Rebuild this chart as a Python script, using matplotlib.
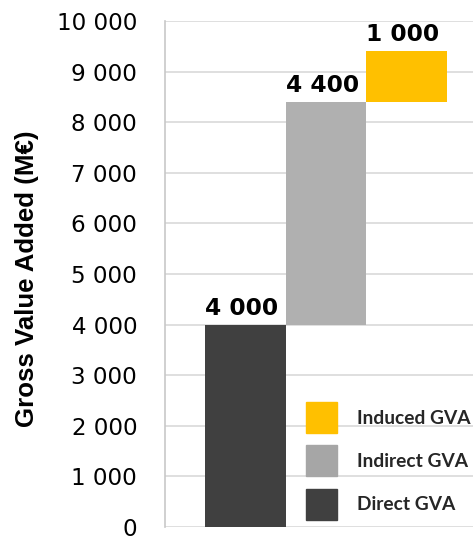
import matplotlib
matplotlib.use("Agg")
import matplotlib.pyplot as plt
from matplotlib.patches import Patch

categories = ["Direct GVA", "Indirect GVA", "Induced GVA"]
values = [4000, 4400, 1000]
value_labels = ["4 000", "4 400", "1 000"]
colors = ["#404040", "#b0b0b0", "#ffc000"]
legend_colors = ["#404040", "#a6a6a6", "#ffc000"]
yticks = [0, 1000, 2000, 3000, 4000, 5000, 6000, 7000, 8000, 9000, 10000]
ytick_labels = ["0", "1 000", "2 000", "3 000", "4 000", "5 000",
                "6 000", "7 000", "8 000", "9 000", "10 000"]

# waterfall bottoms
bottoms = []
run = 0
for v in values:
    bottoms.append(run)
    run += v

fig = plt.figure(figsize=(4.73, 5.38), dpi=100)
ax = fig.add_axes([165 / 473, 11 / 538, 308 / 473, 506 / 538])

xs = list(range(len(values)))
ax.bar(xs, values, bottom=bottoms, width=1.0, color=colors, zorder=3)

for x, b, v, lab in zip(xs, bottoms, values, value_labels):
    ax.text(x - 0.05, b + v + 100, lab, ha="center", va="bottom",
            fontsize=16.8, fontweight="bold", family="DejaVu Sans", zorder=4)

ax.set_xlim(-0.996, 2.82)
ax.set_ylim(0, 10000)
ax.set_yticks(yticks)
ax.set_yticklabels(ytick_labels, fontsize=16.6, family="DejaVu Sans")
ax.set_xticks([])
ax.tick_params(axis="y", length=0, pad=20)
ax.grid(axis="y", color="#d9d9d9", linewidth=1.2, zorder=0)
for s in ["top", "right", "bottom"]:
    ax.spines[s].set_visible(False)
ax.spines["left"].set_color("#c8c8c8")
ax.spines["left"].set_linewidth(1.2)

ax.set_ylabel("Gross Value Added (M€)", fontsize=18.6, fontweight="bold",
              family="Liberation Sans")
ax.yaxis.set_label_coords(-0.408, 0.49)

fs = 13.8
handles = [Patch(color=c) for c in legend_colors][::-1]
leg = fig.legend(handles, categories[::-1], loc="upper left",
                 bbox_to_anchor=(306 / 473, 1 - 402 / 538),
                 frameon=False, borderpad=0, borderaxespad=0,
                 handlelength=1.61, handleheight=2.11, labelspacing=0.65,
                 handletextpad=1.05,
                 prop={"family": "Lato", "weight": "bold", "size": fs})
for t in leg.get_texts():
    t.set_color("#262626")

fig.savefig("out.png", dpi=100)
